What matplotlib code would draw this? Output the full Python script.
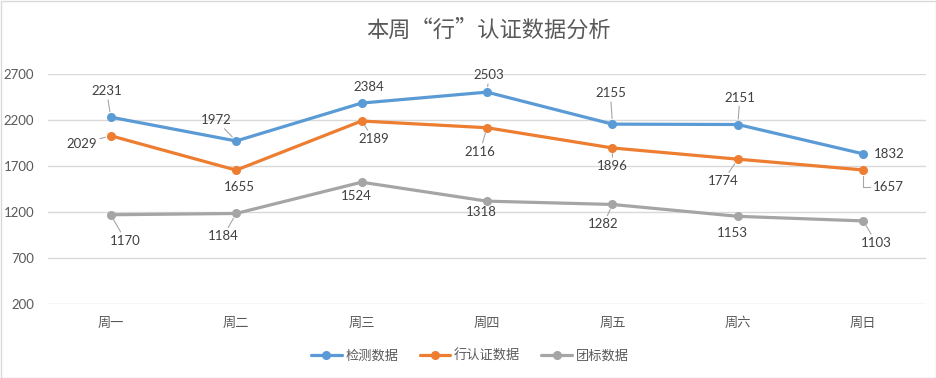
import matplotlib
matplotlib.use("Agg")
import matplotlib.pyplot as plt
from matplotlib.patches import Rectangle

plt.rcParams['font.family'] = ['Noto Sans CJK SC', 'DejaVu Sans']

categories = ["周一", "周二", "周三", "周四", "周五", "周六", "周日"]
series_names = ["检测数据", "行认证数据", "团标数据"]
jiance = [2231, 1972, 2384, 2503, 2155, 2151, 1832]
xingrenzheng = [2029, 1655, 2189, 2116, 1896, 1774, 1657]
tuanbiao = [1170, 1184, 1524, 1318, 1282, 1153, 1103]
yticks = [200, 700, 1200, 1700, 2200, 2700]
title = "本周“行”认证数据分析"

colors = ["#5B9BD5", "#ED7D31", "#A5A5A5"]

# label offsets in pixels (dx, dy) relative to point; dy positive = up
offsets = [
    [(-4, 26), (-20, 21), (7, 16), (2, 17), (-2, 31), (2, 27), (26, 0)],
    [(-29, -8), (3, -17), (12, -18), (-7, -24), (0, -18), (-15, -22), (25, -17)],
    [(15, -26), (-13, -23), (-5, -14), (-6, -11), (-9, -20), (-5, -17), (13, -22)],
]
leader = [
    [True, True, False, True, True, True, False],
    [True, False, True, True, True, True, True],
    [True, True, False, False, True, False, True],
]

fig = plt.figure(figsize=(9.36, 3.78), dpi=100)
ax = fig.add_axes([48/936, 1-304/378, (926-48)/936, (304-74)/378])

x = list(range(len(categories)))
all_series = [jiance, xingrenzheng, tuanbiao]
for s, (vals, name, c) in enumerate(zip(all_series, series_names, colors)):
    ax.plot(x, vals, color=c, lw=2.3, marker='o', markersize=5.5, label=name,
            solid_capstyle='round', zorder=3 + (2 - s))
    for i, v in enumerate(vals):
        dx, dy = offsets[s][i]
        kw = {}
        if leader[s][i]:
            if s == 1 and i == 6:
                kw['arrowprops'] = dict(arrowstyle='-', color='#A6A6A6', lw=0.8,
                                        shrinkA=0, shrinkB=4,
                                        connectionstyle='angle,angleA=0,angleB=90,rad=0')
            else:
                kw['arrowprops'] = dict(arrowstyle='-', color='#A6A6A6', lw=0.8,
                                        shrinkA=0, shrinkB=4)
        ax.annotate(str(v), (i, v), xytext=(dx, dy), textcoords='offset pixels',
                    ha='center', va='center', fontsize=9.5, color='#404040',
                    family=['Lato', 'DejaVu Sans'], zorder=6, **kw)

ax.set_xlim(-0.5, len(categories) - 0.5)
ax.set_ylim(min(yticks), max(yticks))
ax.set_yticks(yticks)
ax.set_yticklabels([str(t) for t in yticks], family=['Lato', 'DejaVu Sans'],
                   fontsize=9.5, color='#595959')
ax.set_xticks(x)
ax.set_xticklabels(categories, fontsize=9.5, color='#595959')
ax.tick_params(axis='both', length=0)
ax.tick_params(axis='x', pad=9)
ax.tick_params(axis='y', pad=10)
ax.grid(axis='y', color='#D9D9D9', lw=1)
ax.set_axisbelow(True)
for sp in ax.spines.values():
    sp.set_visible(False)

fig.text(488/936, 1-30/378, title, ha='center', va='center', fontsize=16, color='#595959')

leg = fig.legend(loc='center', bbox_to_anchor=(470/936, 1-356/378), ncol=3, frameon=False,
                 fontsize=9.5, handlelength=2.3, columnspacing=1.6, handletextpad=0.3,
                 labelcolor='#595959')

fig.patches.append(Rectangle((0.5/936, 0.5/378), 1-1/936, 1-1/378, transform=fig.transFigure,
                             fill=False, edgecolor='#D9D9D9', lw=1))

fig.savefig("out.png", dpi=100)
